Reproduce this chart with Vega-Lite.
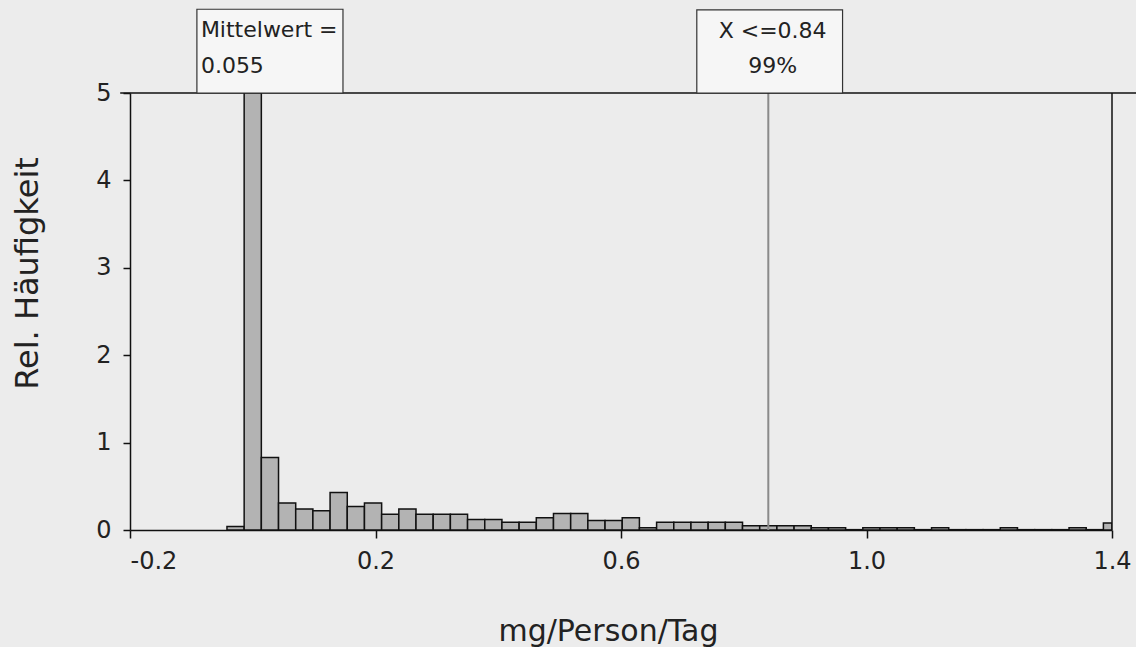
{
  "$schema": "https://vega.github.io/schema/vega-lite/v6.json",
  "width": 982,
  "height": 437,
  "autosize": "none",
  "padding": {"left": 130, "top": 93, "right": 24, "bottom": 117},
  "background": "#ececec",
  "config": {
    "font": "DejaVu Sans",
    "view": {"stroke": null},
    "axis": {"grid": false}
  },
  "resolve": {"axis": {"x": "independent", "y": "independent"}},
  "data": {
    "values": [
      {"start": -0.042, "end": -0.014, "freq": 0.04},
      {"start": -0.014, "end": 0.014, "freq": 30},
      {"start": 0.014, "end": 0.042, "freq": 0.83},
      {"start": 0.042, "end": 0.070, "freq": 0.31},
      {"start": 0.070, "end": 0.098, "freq": 0.24},
      {"start": 0.098, "end": 0.126, "freq": 0.22},
      {"start": 0.126, "end": 0.154, "freq": 0.43},
      {"start": 0.154, "end": 0.182, "freq": 0.27},
      {"start": 0.182, "end": 0.210, "freq": 0.31},
      {"start": 0.210, "end": 0.238, "freq": 0.18},
      {"start": 0.238, "end": 0.266, "freq": 0.24},
      {"start": 0.266, "end": 0.294, "freq": 0.18},
      {"start": 0.294, "end": 0.322, "freq": 0.18},
      {"start": 0.322, "end": 0.350, "freq": 0.18},
      {"start": 0.350, "end": 0.378, "freq": 0.12},
      {"start": 0.378, "end": 0.406, "freq": 0.12},
      {"start": 0.406, "end": 0.434, "freq": 0.09},
      {"start": 0.434, "end": 0.462, "freq": 0.09},
      {"start": 0.462, "end": 0.490, "freq": 0.14},
      {"start": 0.490, "end": 0.518, "freq": 0.19},
      {"start": 0.518, "end": 0.546, "freq": 0.19},
      {"start": 0.546, "end": 0.574, "freq": 0.11},
      {"start": 0.574, "end": 0.602, "freq": 0.11},
      {"start": 0.602, "end": 0.630, "freq": 0.14},
      {"start": 0.630, "end": 0.658, "freq": 0.025},
      {"start": 0.658, "end": 0.686, "freq": 0.09},
      {"start": 0.686, "end": 0.714, "freq": 0.09},
      {"start": 0.714, "end": 0.742, "freq": 0.09},
      {"start": 0.742, "end": 0.770, "freq": 0.09},
      {"start": 0.770, "end": 0.798, "freq": 0.09},
      {"start": 0.798, "end": 0.826, "freq": 0.05},
      {"start": 0.826, "end": 0.854, "freq": 0.05},
      {"start": 0.854, "end": 0.882, "freq": 0.05},
      {"start": 0.882, "end": 0.910, "freq": 0.05},
      {"start": 0.910, "end": 0.938, "freq": 0.025},
      {"start": 0.938, "end": 0.966, "freq": 0.025},
      {"start": 0.966, "end": 0.994, "freq": 0.004},
      {"start": 0.994, "end": 1.022, "freq": 0.025},
      {"start": 1.022, "end": 1.050, "freq": 0.025},
      {"start": 1.050, "end": 1.078, "freq": 0.025},
      {"start": 1.078, "end": 1.106, "freq": 0.004},
      {"start": 1.106, "end": 1.134, "freq": 0.025},
      {"start": 1.134, "end": 1.162, "freq": 0.004},
      {"start": 1.162, "end": 1.190, "freq": 0.004},
      {"start": 1.190, "end": 1.218, "freq": 0.004},
      {"start": 1.218, "end": 1.246, "freq": 0.025},
      {"start": 1.246, "end": 1.274, "freq": 0.004},
      {"start": 1.274, "end": 1.302, "freq": 0.004},
      {"start": 1.302, "end": 1.330, "freq": 0.004},
      {"start": 1.330, "end": 1.358, "freq": 0.025},
      {"start": 1.358, "end": 1.386, "freq": 0.004},
      {"start": 1.386, "end": 1.400, "freq": 0.08}
    ]
  },
  "layer": [
    {
      "mark": {"type": "rect", "fill": "#b3b3b3", "stroke": "#111111", "strokeWidth": 1.5, "clip": true},
      "encoding": {
        "x": {
          "field": "start", "type": "quantitative",
          "scale": {"domain": [-0.2, 1.4], "nice": false, "zero": false},
          "axis": {
            "values": [-0.2, 0.2, 0.6, 1.0, 1.4],
            "labelExpr": "datum.value < 0 ? '-' + format(-datum.value, '.1f') : format(datum.value, '.1f')",
            "labelAlign": {"condition": {"test": "datum.value < 0", "value": "left"}, "value": "center"},
            "domainColor": "#111111", "domainWidth": 1.5,
            "tickColor": "#111111", "tickWidth": 1.5, "tickSize": 8,
            "labelFontSize": 24, "labelColor": "#222222", "labelPadding": 11, "labelFlush": false,
            "title": "mg/Person/Tag", "titleFontSize": 30, "titleFontWeight": "normal", "titleColor": "#222222",
            "titleX": 478, "titleY": 110, "titleBaseline": "alphabetic"
          }
        },
        "x2": {"field": "end"},
        "y": {
          "field": "freq", "type": "quantitative",
          "scale": {"domain": [0, 5], "nice": false},
          "axis": {
            "values": [0, 1, 2, 3, 4, 5],
            "domainColor": "#111111", "domainWidth": 1.5,
            "tickColor": "#111111", "tickWidth": 1.5, "tickSize": 7,
            "labelFontSize": 24, "labelColor": "#222222", "labelPadding": 12,
            "title": "Rel. Häufigkeit", "titleFontSize": 32, "titleFontWeight": "normal", "titleColor": "#222222",
            "titleX": -93, "titleY": 180, "titleBaseline": "alphabetic"
          }
        },
        "y2": {"datum": 0}
      }
    },
    {
      "data": {"values": [{}]},
      "mark": {"type": "rule", "color": "#8a8a8a", "strokeWidth": 2},
      "encoding": {
        "x": {"datum": 0.84, "type": "quantitative", "scale": {"domain": [-0.2, 1.4], "nice": false, "zero": false}, "axis": null},
        "y": {"datum": 0, "type": "quantitative", "scale": {"domain": [0, 5], "nice": false}, "axis": null},
        "y2": {"datum": 5}
      }
    },
    {
      "data": {"values": [{}]},
      "mark": {"type": "rule", "color": "#111111", "strokeWidth": 1.5},
      "encoding": {
        "x": {"datum": -0.216, "type": "quantitative", "scale": {"domain": [-0.2, 1.4], "nice": false, "zero": false}, "axis": null},
        "x2": {"datum": 1.44},
        "y": {"datum": 5, "type": "quantitative", "scale": {"domain": [0, 5], "nice": false}, "axis": null}
      }
    },
    {
      "data": {"values": [{}]},
      "mark": {"type": "rule", "color": "#111111", "strokeWidth": 1.5},
      "encoding": {
        "x": {"datum": 1.4, "type": "quantitative", "scale": {"domain": [-0.2, 1.4], "nice": false, "zero": false}, "axis": null},
        "y": {"datum": 0, "type": "quantitative", "scale": {"domain": [0, 5], "nice": false}, "axis": null},
        "y2": {"datum": 5}
      }
    },
    {
      "data": {"values": [{}]},
      "mark": {"type": "rect", "fill": "#f6f6f6", "stroke": "#333333", "strokeWidth": 1.2},
      "encoding": {
        "x": {"datum": -0.091, "type": "quantitative", "scale": {"domain": [-0.2, 1.4], "nice": false, "zero": false}, "axis": null},
        "x2": {"datum": 0.147},
        "y": {"datum": 5, "type": "quantitative", "scale": {"domain": [0, 5], "nice": false}, "axis": null},
        "y2": {"datum": 5.958}
      }
    },
    {
      "data": {"values": [{}]},
      "mark": {"type": "rect", "fill": "#f6f6f6", "stroke": "#333333", "strokeWidth": 1.2},
      "encoding": {
        "x": {"datum": 0.7235, "type": "quantitative", "scale": {"domain": [-0.2, 1.4], "nice": false, "zero": false}, "axis": null},
        "x2": {"datum": 0.961},
        "y": {"datum": 5, "type": "quantitative", "scale": {"domain": [0, 5], "nice": false}, "axis": null},
        "y2": {"datum": 5.95}
      }
    },
    {
      "data": {"values": [{"line1": "Mittelwert =", "line2": "0.055"}]},
      "layer": [
        {
          "mark": {"type": "text", "align": "left", "baseline": "alphabetic", "fontSize": 22, "color": "#222222"},
          "encoding": {
            "x": {"datum": -0.0845, "type": "quantitative", "scale": {"domain": [-0.2, 1.4], "nice": false, "zero": false}, "axis": null},
            "y": {"datum": 5.637, "type": "quantitative", "scale": {"domain": [0, 5], "nice": false}, "axis": null},
            "text": {"field": "line1"}
          }
        },
        {
          "mark": {"type": "text", "align": "left", "baseline": "alphabetic", "fontSize": 22, "color": "#222222"},
          "encoding": {
            "x": {"datum": -0.0845, "type": "quantitative", "scale": {"domain": [-0.2, 1.4], "nice": false, "zero": false}, "axis": null},
            "y": {"datum": 5.232, "type": "quantitative", "scale": {"domain": [0, 5], "nice": false}, "axis": null},
            "text": {"field": "line2"}
          }
        }
      ]
    },
    {
      "data": {"values": [{"line1": "X <=0.84", "line2": "99%"}]},
      "layer": [
        {
          "mark": {"type": "text", "align": "center", "baseline": "alphabetic", "fontSize": 22, "color": "#222222"},
          "encoding": {
            "x": {"datum": 0.847, "type": "quantitative", "scale": {"domain": [-0.2, 1.4], "nice": false, "zero": false}, "axis": null},
            "y": {"datum": 5.633, "type": "quantitative", "scale": {"domain": [0, 5], "nice": false}, "axis": null},
            "text": {"field": "line1"}
          }
        },
        {
          "mark": {"type": "text", "align": "center", "baseline": "alphabetic", "fontSize": 22, "color": "#222222"},
          "encoding": {
            "x": {"datum": 0.847, "type": "quantitative", "scale": {"domain": [-0.2, 1.4], "nice": false, "zero": false}, "axis": null},
            "y": {"datum": 5.226, "type": "quantitative", "scale": {"domain": [0, 5], "nice": false}, "axis": null},
            "text": {"field": "line2"}
          }
        }
      ]
    }
  ]
}
